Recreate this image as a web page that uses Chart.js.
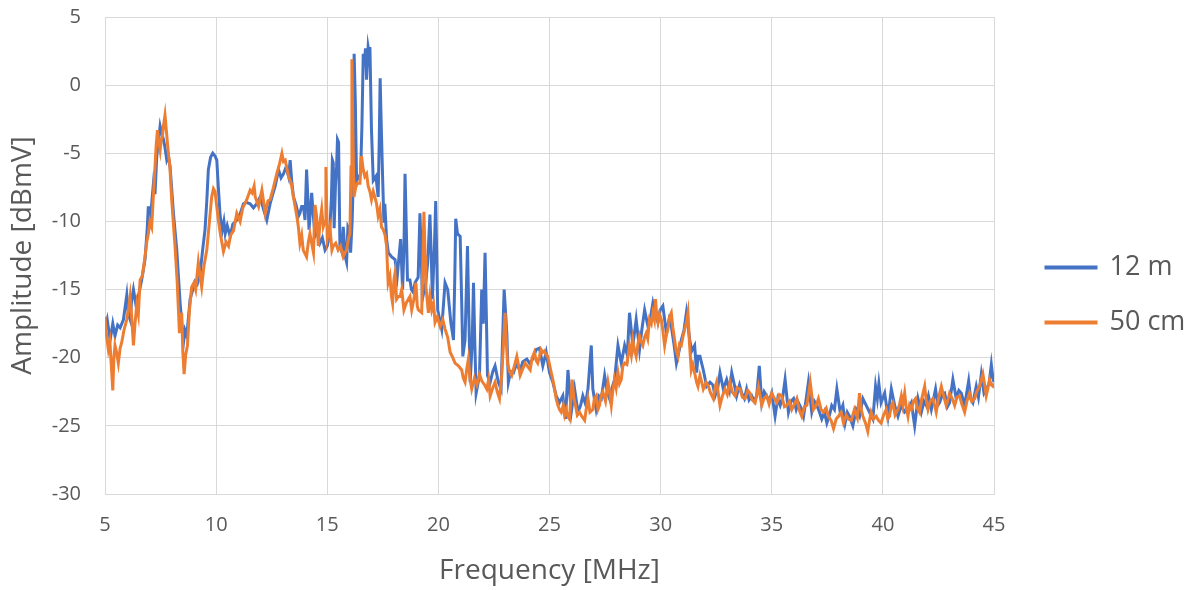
<!DOCTYPE html>
<html>
<head>
<meta charset="utf-8">
<script src="https://cdn.jsdelivr.net/npm/chart.js@4.4.1/dist/chart.umd.min.js"></script>
<style>
  html, body { margin: 0; padding: 0; background: #ffffff; }
  canvas { display: block; }
</style>
</head>
<body>
<canvas id="chart" width="1195" height="590"></canvas>
<script>
// Chart data
const seriesLabels = ['12 m', '50 cm'];
const xTicks = [5, 10, 15, 20, 25, 30, 35, 40, 45];
const yTicks = [-30, -25, -20, -15, -10, -5, 0, 5];

const freq12m = [
  5.00, 5.10, 5.23, 5.35, 5.45, 5.57, 5.68, 5.83, 5.98, 6.05, 6.13, 6.20, 6.28, 6.40, 6.50, 6.65, 6.80, 6.90, 6.95, 7.02,
  7.10, 7.18, 7.25, 7.33, 7.40, 7.48, 7.55, 7.63, 7.70, 7.78, 7.85, 7.93, 8.08, 8.23, 8.38, 8.53, 8.60, 8.68, 8.83, 8.95,
  9.05, 9.15, 9.28, 9.40, 9.50, 9.58, 9.65, 9.75, 9.85, 9.95, 10.03, 10.10, 10.18, 10.28, 10.35, 10.41, 10.50, 10.63, 10.75, 10.93,
  11.05, 11.23, 11.35, 11.53, 11.68, 11.83, 11.98, 12.13, 12.28, 12.43, 12.55, 12.66, 12.81, 12.92, 13.03, 13.15, 13.26, 13.33, 13.40, 13.48,
  13.60, 13.71, 13.77, 13.85, 13.93, 14.00, 14.07, 14.12, 14.18, 14.30, 14.37, 14.45, 14.55, 14.67, 14.78, 14.90, 15.00, 15.10, 15.19, 15.23,
  15.27, 15.31, 15.37, 15.42, 15.46, 15.51, 15.57, 15.65, 15.72, 15.81, 15.87, 15.93, 15.99, 16.05, 16.12, 16.17, 16.21, 16.26, 16.32, 16.40,
  16.50, 16.56, 16.62, 16.67, 16.72, 16.77, 16.84, 16.88, 16.92, 16.99, 17.07, 17.19, 17.29, 17.34, 17.38, 17.43, 17.49, 17.55, 17.59, 17.67,
  17.75, 17.90, 18.05, 18.15, 18.30, 18.39, 18.45, 18.50, 18.55, 18.61, 18.72, 18.79, 18.87, 18.95, 19.02, 19.09, 19.17, 19.22, 19.28, 19.43,
  19.52, 19.62, 19.68, 19.73, 19.82, 19.88, 19.92, 19.97, 20.15, 20.30, 20.42, 20.56, 20.68, 20.74, 20.78, 20.86, 20.98, 21.05, 21.10, 21.20,
  21.31, 21.36, 21.43, 21.52, 21.58, 21.64, 21.70, 21.85, 21.95, 22.02, 22.10, 22.16, 22.21, 22.33, 22.45, 22.55, 22.70, 22.82, 22.96, 23.08,
  23.15, 23.25, 23.38, 23.50, 23.68, 23.80, 23.98, 24.10, 24.25, 24.40, 24.55, 24.70, 24.85, 25.00, 25.15, 25.30, 25.45, 25.60, 25.72, 25.83,
  25.98, 26.13, 26.28, 26.40, 26.50, 26.62, 26.73, 26.88, 26.95, 27.10, 27.22, 27.33, 27.48, 27.60, 27.70, 27.82, 27.93, 28.08, 28.23, 28.38,
  28.50, 28.60, 28.75, 28.90, 29.05, 29.15, 29.28, 29.43, 29.55, 29.65, 29.75, 29.88, 29.98, 30.10, 30.26, 30.38, 30.48, 30.60, 30.71, 30.83,
  30.93, 31.05, 31.16, 31.31, 31.40, 31.53, 31.62, 31.68, 31.77, 31.92, 32.07, 32.22, 32.35, 32.45, 32.57, 32.67, 32.82, 32.97, 33.10, 33.20,
  33.32, 33.42, 33.55, 33.65, 33.77, 33.87, 33.98, 34.10, 34.22, 34.32, 34.44, 34.55, 34.66, 34.77, 34.88, 35.00, 35.15, 35.27, 35.38, 35.50,
  35.60, 35.75, 35.87, 35.98, 36.10, 36.20, 36.32, 36.43, 36.55, 36.65, 36.80, 36.92, 37.03, 37.15, 37.25, 37.37, 37.48, 37.60, 37.70, 37.82,
  37.93, 38.08, 38.20, 38.30, 38.40, 38.50, 38.65, 38.80, 38.95, 39.10, 39.25, 39.40, 39.55, 39.67, 39.75, 39.82, 39.92, 40.08, 40.23, 40.38,
  40.53, 40.68, 40.83, 40.98, 41.13, 41.28, 41.43, 41.58, 41.73, 41.85, 41.95, 42.05, 42.18, 42.37, 42.47, 42.55, 42.68, 42.78, 42.90, 43.00,
  43.15, 43.30, 43.42, 43.53, 43.68, 43.86, 43.95, 44.05, 44.20, 44.30, 44.43, 44.55, 44.65, 44.78, 44.88, 44.95, 45.00
];
const amp12m = [
  -17.9, -17.2, -18.7, -17.5, -18.4, -17.6, -17.8, -17.2, -15.4, -16.8, -17.2, -15.8, -15.0, -16.2, -15.5, -14.3, -12.8, -10.5, -8.9, -9.8,
  -8.7, -7.2, -8.0, -5.2, -4.2, -3.0, -3.5, -4.0, -4.6, -5.5, -5.2, -6.0, -9.4, -12.1, -16.0, -18.9, -18.0, -18.4, -15.7, -15.0,
  -14.4, -14.6, -13.8, -12.0, -10.6, -8.5, -6.2, -5.3, -5.0, -5.2, -5.5, -7.5, -9.6, -10.6, -10.0, -10.9, -10.3, -11.1, -10.2, -9.9,
  -9.6, -8.7, -8.6, -8.7, -9.0, -8.7, -8.2, -9.1, -9.9, -8.7, -8.0, -7.4, -6.2, -6.8, -6.5, -6.0, -6.7, -5.5, -7.0, -8.2,
  -8.8, -9.6, -9.4, -8.9, -8.9, -9.9, -6.2, -8.0, -10.6, -7.9, -9.5, -11.1, -10.8, -11.6, -11.2, -12.1, -11.8, -11.0, -8.2, -5.5,
  -5.7, -10.5, -7.4, -6.0, -4.0, -4.2, -11.8, -12.2, -10.4, -12.6, -13.0, -10.4, -10.6, -12.3, -10.0, -7.0, 2.3, -1.0, -7.0, -6.8,
  -6.5, -3.0, 2.3, 1.5, 2.7, 0.4, 2.8, 2.4, 2.8, -3.3, -7.0, -6.7, -8.2, -4.0, 0.5, -3.0, -6.7, -10.1, -8.7, -11.3,
  -12.3, -12.6, -12.8, -14.0, -11.3, -15.0, -12.0, -6.5, -10.0, -14.3, -14.3, -15.0, -15.2, -14.5, -14.3, -14.1, -9.4, -12.0, -15.7, -14.5,
  -13.0, -9.5, -12.5, -15.7, -12.0, -8.5, -12.0, -16.5, -17.9, -14.5, -15.0, -17.4, -18.7, -14.0, -9.8, -10.9, -11.1, -16.0, -19.9, -18.7,
  -11.8, -16.0, -21.8, -19.0, -14.5, -19.0, -22.6, -21.3, -15.0, -17.5, -12.3, -17.0, -21.3, -21.8, -21.0, -20.6, -21.8, -22.3, -15.0, -18.2,
  -21.8, -21.0, -21.1, -20.5, -20.9, -20.3, -20.1, -20.4, -20.1, -19.4, -19.3, -20.6, -19.6, -21.1, -21.8, -22.8, -23.3, -22.8, -24.5, -20.9,
  -24.0, -22.3, -24.0, -23.5, -22.8, -23.4, -22.3, -19.1, -22.3, -23.8, -22.8, -23.0, -21.3, -22.5, -23.0, -22.2, -21.6, -19.1, -20.4, -19.1,
  -19.8, -16.7, -19.1, -17.2, -19.4, -18.0, -16.5, -17.7, -17.0, -16.0, -16.8, -17.4, -16.5, -16.2, -18.2, -17.2, -17.7, -19.0, -20.4, -19.5,
  -18.7, -18.0, -16.7, -18.7, -19.5, -19.1, -21.1, -19.9, -19.9, -20.9, -22.1, -21.8, -22.0, -22.8, -22.2, -21.1, -22.3, -21.6, -22.4, -21.1,
  -22.0, -22.8, -22.0, -22.6, -23.0, -22.3, -23.1, -22.8, -23.2, -22.8, -20.6, -23.3, -22.5, -22.8, -23.2, -22.6, -24.3, -23.0, -23.5, -22.8,
  -21.6, -24.0, -23.2, -23.0, -23.8, -23.3, -23.7, -24.3, -23.0, -21.8, -24.0, -23.2, -23.5, -24.0, -24.5, -24.0, -24.8, -24.2, -23.5, -23.8,
  -22.3, -24.0, -23.5, -24.8, -24.0, -24.3, -25.0, -23.8, -24.3, -23.0, -23.5, -24.0, -24.5, -22.1, -23.0, -21.9, -23.3, -22.6, -24.3, -22.3,
  -23.5, -24.3, -23.5, -24.0, -23.8, -23.3, -25.0, -23.0, -24.0, -23.2, -23.5, -22.8, -23.8, -22.3, -23.5, -23.3, -22.7, -22.6, -23.6, -23.3,
  -21.6, -23.0, -22.4, -22.6, -23.5, -21.7, -23.0, -23.3, -22.1, -22.9, -21.2, -22.6, -22.3, -21.9, -20.5, -21.5, -21.8
];

const freq50cm = [
  5.00, 5.08, 5.15, 5.22, 5.30, 5.35, 5.40, 5.45, 5.52, 5.60, 5.68, 5.75, 5.85, 5.98, 6.05, 6.13, 6.20, 6.28, 6.35, 6.43,
  6.50, 6.58, 6.68, 6.80, 6.88, 6.95, 7.02, 7.10, 7.18, 7.25, 7.30, 7.36, 7.42, 7.48, 7.53, 7.58, 7.63, 7.70, 7.77, 7.85,
  7.92, 8.00, 8.15, 8.25, 8.35, 8.45, 8.50, 8.56, 8.63, 8.71, 8.80, 8.90, 9.00, 9.08, 9.20, 9.28, 9.35, 9.45, 9.58, 9.70,
  9.80, 9.88, 9.95, 10.10, 10.20, 10.33, 10.45, 10.56, 10.65, 10.78, 10.93, 11.08, 11.20, 11.38, 11.53, 11.62, 11.71, 11.76, 11.91, 12.06,
  12.21, 12.33, 12.43, 12.58, 12.73, 12.85, 12.96, 13.03, 13.11, 13.26, 13.38, 13.48, 13.63, 13.70, 13.77, 13.85, 13.92, 14.07, 14.15, 14.22,
  14.30, 14.38, 14.45, 14.52, 14.60, 14.67, 14.75, 14.82, 14.90, 14.94, 15.00, 15.12, 15.21, 15.27, 15.38, 15.49, 15.60, 15.72, 15.80, 15.87,
  15.95, 16.02, 16.07, 16.11, 16.15, 16.20, 16.28, 16.35, 16.47, 16.54, 16.62, 16.69, 16.77, 16.84, 16.92, 16.99, 17.07, 17.14, 17.22, 17.29,
  17.37, 17.44, 17.52, 17.60, 17.67, 17.74, 17.82, 17.89, 17.94, 18.00, 18.05, 18.12, 18.20, 18.28, 18.35, 18.45, 18.55, 18.65, 18.72, 18.80,
  18.90, 18.99, 19.05, 19.10, 19.25, 19.30, 19.35, 19.40, 19.44, 19.55, 19.62, 19.70, 19.78, 19.85, 19.95, 20.08, 20.20, 20.30, 20.42, 20.53,
  20.65, 20.75, 20.90, 21.05, 21.12, 21.20, 21.28, 21.35, 21.42, 21.50, 21.62, 21.73, 21.85, 21.95, 22.08, 22.18, 22.26, 22.33, 22.45, 22.55,
  22.65, 22.75, 22.85, 22.93, 23.00, 23.05, 23.11, 23.20, 23.30, 23.42, 23.53, 23.60, 23.68, 23.80, 23.90, 24.00, 24.13, 24.22, 24.32, 24.40,
  24.47, 24.55, 24.62, 24.70, 24.77, 24.85, 24.92, 25.00, 25.08, 25.15, 25.23, 25.30, 25.38, 25.45, 25.53, 25.62, 25.68, 25.75, 25.82, 25.90,
  25.96, 26.02, 26.10, 26.17, 26.25, 26.35, 26.45, 26.58, 26.65, 26.73, 26.82, 26.95, 27.02, 27.10, 27.18, 27.25, 27.32, 27.40, 27.52, 27.63,
  27.70, 27.78, 27.85, 27.93, 28.00, 28.08, 28.15, 28.23, 28.30, 28.38, 28.48, 28.60, 28.68, 28.75, 28.82, 28.90, 28.98, 29.05, 29.12, 29.20,
  29.28, 29.35, 29.42, 29.50, 29.58, 29.65, 29.72, 29.77, 29.82, 29.88, 29.95, 30.03, 30.10, 30.18, 30.25, 30.33, 30.40, 30.48, 30.55, 30.63,
  30.70, 30.78, 30.85, 30.93, 31.00, 31.08, 31.15, 31.23, 31.30, 31.38, 31.45, 31.53, 31.62, 31.68, 31.77, 31.85, 31.92, 32.05, 32.15, 32.25,
  32.37, 32.45, 32.52, 32.60, 32.67, 32.78, 32.90, 33.00, 33.12, 33.22, 33.35, 33.45, 33.57, 33.68, 33.80, 33.92, 34.02, 34.12, 34.25, 34.40,
  34.55, 34.65, 34.77, 34.88, 35.00, 35.12, 35.23, 35.35, 35.45, 35.57, 35.68, 35.80, 35.90, 36.02, 36.13, 36.25, 36.35, 36.47, 36.58, 36.73,
  36.88, 37.00, 37.10, 37.22, 37.33, 37.45, 37.55, 37.67, 37.78, 37.90, 38.00, 38.12, 38.23, 38.35, 38.45, 38.58, 38.72, 38.85, 38.95, 39.03,
  39.10, 39.22, 39.32, 39.40, 39.47, 39.58, 39.70, 39.80, 39.92, 40.03, 40.15, 40.22, 40.30, 40.38, 40.45, 40.55, 40.68, 40.75, 40.83, 40.90,
  40.98, 41.05, 41.13, 41.20, 41.28, 41.38, 41.47, 41.55, 41.65, 41.75, 41.88, 41.95, 42.03, 42.13, 42.25, 42.33, 42.40, 42.50, 42.63, 42.75,
  42.85, 42.93, 43.00, 43.12, 43.23, 43.33, 43.45, 43.55, 43.68, 43.78, 43.90, 44.00, 44.13, 44.22, 44.35, 44.50, 44.58, 44.65, 44.72, 44.80,
  44.88, 44.95, 45.00
];
const amp50cm = [
  -17.0, -18.5, -19.4, -18.8, -21.0, -22.4, -20.0, -19.1, -19.6, -20.4, -19.3, -18.9, -18.0, -17.2, -16.5, -15.5, -17.0, -19.1, -17.5, -16.1,
  -16.8, -14.3, -14.0, -12.6, -11.5, -10.9, -10.0, -10.4, -8.0, -6.0, -4.5, -3.3, -4.2, -4.8, -4.0, -3.8, -3.0, -2.2, -3.5, -5.0,
  -6.0, -8.4, -11.8, -14.5, -18.2, -16.7, -19.5, -21.2, -19.8, -19.1, -16.5, -14.8, -14.5, -15.0, -13.0, -14.0, -14.8, -13.3, -12.1, -10.0,
  -8.2, -7.6, -7.8, -9.9, -11.0, -12.2, -11.5, -11.8, -11.0, -10.7, -9.4, -10.0, -9.0, -8.4, -7.7, -7.9, -7.4, -8.2, -8.9, -7.7,
  -9.4, -8.5, -8.4, -7.5, -6.5, -5.8, -5.0, -5.6, -5.5, -6.7, -7.2, -8.2, -9.6, -10.4, -11.6, -11.0, -12.1, -12.6, -11.5, -10.9,
  -11.6, -12.3, -8.8, -9.6, -11.8, -10.1, -9.1, -10.4, -10.0, -6.0, -11.3, -10.4, -12.1, -11.8, -11.6, -12.1, -11.8, -12.6, -12.3, -12.1,
  -11.3, -10.9, -6.0, 1.9, -3.0, -8.2, -7.5, -7.2, -7.2, -5.2, -6.2, -6.7, -6.5, -7.4, -7.8, -8.4, -7.8, -8.2, -8.7, -9.6,
  -9.1, -10.4, -10.6, -11.0, -11.8, -14.5, -14.0, -15.5, -16.0, -14.3, -13.8, -15.7, -15.5, -15.5, -15.0, -16.5, -16.0, -15.7, -15.5, -16.5,
  -15.7, -14.5, -16.2, -16.5, -16.7, -13.0, -9.3, -12.5, -14.8, -16.7, -15.5, -16.5, -16.0, -17.4, -17.0, -17.7, -17.2, -17.9, -18.5, -19.6,
  -20.0, -20.4, -20.6, -20.9, -21.5, -21.8, -20.8, -20.1, -21.5, -22.3, -21.5, -22.0, -21.2, -21.7, -22.0, -22.3, -21.6, -22.8, -22.2, -21.8,
  -22.5, -23.0, -21.3, -19.0, -16.7, -18.5, -20.4, -21.0, -21.3, -20.6, -19.9, -20.5, -21.3, -20.8, -20.4, -20.6, -20.9, -20.0, -19.6, -20.2,
  -20.4, -19.9, -19.4, -19.6, -19.5, -19.8, -19.9, -20.5, -21.1, -21.6, -22.3, -23.0, -23.5, -23.8, -24.0, -23.5, -24.2, -23.8, -24.3, -24.5,
  -23.0, -21.6, -23.0, -23.5, -24.2, -24.0, -24.3, -24.6, -23.8, -23.0, -24.0, -23.8, -23.0, -22.8, -23.8, -23.5, -22.8, -22.5, -23.2, -21.8,
  -22.5, -23.5, -22.4, -21.6, -22.2, -21.1, -21.9, -21.6, -20.6, -20.4, -20.5, -19.1, -19.8, -18.7, -19.4, -19.9, -19.0, -18.4, -18.8, -19.1,
  -18.5, -18.2, -18.6, -17.2, -17.5, -16.7, -17.2, -15.7, -16.8, -17.4, -16.8, -17.2, -18.0, -19.1, -18.4, -17.9, -17.0, -16.7, -17.8, -18.7,
  -19.5, -19.9, -19.0, -19.1, -18.5, -17.9, -17.5, -16.7, -19.0, -20.9, -20.5, -21.1, -21.8, -22.1, -21.3, -21.8, -22.3, -21.8, -22.1, -22.6,
  -23.0, -22.2, -21.8, -22.7, -23.5, -22.8, -22.3, -22.7, -21.8, -22.5, -22.8, -22.2, -22.3, -22.9, -23.0, -22.4, -22.6, -23.1, -23.3, -22.1,
  -23.5, -23.0, -22.8, -23.4, -22.6, -23.0, -23.3, -22.7, -22.8, -23.6, -23.5, -23.2, -23.8, -23.4, -23.0, -23.9, -24.3, -23.6, -23.5, -21.8,
  -23.8, -23.5, -23.0, -23.8, -24.0, -23.7, -24.3, -24.6, -25.2, -24.5, -24.3, -24.0, -24.8, -24.2, -24.5, -24.6, -23.8, -24.4, -22.6, -23.8,
  -24.3, -24.8, -25.4, -24.6, -24.0, -24.5, -24.3, -24.6, -24.8, -24.2, -23.8, -24.5, -24.3, -23.5, -23.3, -24.2, -23.8, -23.4, -22.8, -23.5,
  -22.6, -23.6, -24.3, -23.5, -23.8, -23.2, -23.0, -23.7, -24.0, -23.0, -22.1, -23.1, -23.8, -23.2, -23.0, -23.5, -24.0, -23.0, -22.1, -22.9,
  -23.5, -23.1, -22.6, -23.0, -23.5, -22.9, -22.8, -23.4, -24.0, -23.2, -22.6, -23.2, -23.0, -22.5, -22.1, -21.2, -22.0, -22.8, -22.3, -21.6,
  -22.0, -22.1, -21.9
];

const BLUE = '#4472C4';
const ORANGE = '#ED7D31';
const TEXT = '#595959';
const GRID = '#D9D9D9';
const FONT = "'Open Sans', 'Liberation Sans', sans-serif";

function toPoints(xs, ys) {
    return xs.map((x, i) => ({ x: x, y: ys[i] }));
}

// plot area in the reference: x 105..994, y 17..494
const PLOT_TOP = 17;
const PLOT_RIGHT = 994;
const LEGEND_START = 1046;
const LEGEND_PAD = 28;

new Chart(document.getElementById('chart'), {
    type: 'line',
    data: {
        datasets: [
            {
                label: seriesLabels[0],
                data: toPoints(freq12m, amp12m),
                borderColor: BLUE,
                backgroundColor: BLUE,
                borderWidth: 3,
                pointRadius: 0,
                tension: 0,
                order: 1
            },
            {
                label: seriesLabels[1],
                data: toPoints(freq50cm, amp50cm),
                borderColor: ORANGE,
                backgroundColor: ORANGE,
                borderWidth: 3,
                pointRadius: 0,
                tension: 0,
                order: 0
            }
        ]
    },
    options: {
        responsive: false,
        animation: false,
        layout: { padding: 0 },
        plugins: {
            tooltip: { enabled: false },
            legend: {
                position: 'right',
                align: 'center',
                maxWidth: 1195 - LEGEND_START + LEGEND_PAD,
                labels: {
                    boxWidth: 50,
                    boxHeight: 1,
                    padding: LEGEND_PAD,
                    color: TEXT,
                    font: { family: FONT, size: 27 },
                    sort: (a, b) => a.datasetIndex - b.datasetIndex
                }
            }
        },
        scales: {
            x: {
                type: 'linear',
                min: xTicks[0],
                max: xTicks[xTicks.length - 1],
                afterBuildTicks: (scale) => { scale.ticks = xTicks.map(v => ({ value: v })); },
                afterFit: (scale) => { scale.height = 96; },
                grid: { color: GRID, lineWidth: 1, drawTicks: false },
                border: { color: GRID, width: 1 },
                ticks: { color: TEXT, font: { family: FONT, size: 20 }, padding: 19, maxRotation: 0 },
                title: {
                    display: true,
                    text: 'Frequency [MHz]',
                    color: TEXT,
                    font: { family: FONT, size: 28 },
                    padding: { top: 0, bottom: 2 }
                }
            },
            y: {
                type: 'linear',
                min: yTicks[0],
                max: yTicks[yTicks.length - 1],
                afterBuildTicks: (scale) => { scale.ticks = yTicks.map(v => ({ value: v })); },
                afterFit: (scale) => {
                    scale.width = 105;
                    scale.paddingTop = PLOT_TOP;
                },
                grid: { color: GRID, lineWidth: 1, drawTicks: false },
                border: { color: GRID, width: 1 },
                ticks: { color: TEXT, font: { family: FONT, size: 20 }, padding: 24 },
                title: {
                    display: true,
                    text: 'Amplitude [dBmV]',
                    color: TEXT,
                    font: { family: FONT, size: 28 },
                    padding: { top: 6, bottom: 0 }
                }
            },
            // empty box between the plot and the legend
            gap: {
                type: 'linear',
                position: 'right',
                display: true,
                grid: { display: false, drawTicks: false },
                border: { display: false },
                ticks: { display: false },
                afterFit: (scale) => {
                    const legendWidth = scale.chart.legend ? scale.chart.legend.width : 0;
                    scale.width = Math.max(0, 1195 - PLOT_RIGHT - legendWidth);
                    scale.paddingTop = 0;
                    scale.paddingBottom = 0;
                }
            }
        }
    }
});
</script>
</body>
</html>
